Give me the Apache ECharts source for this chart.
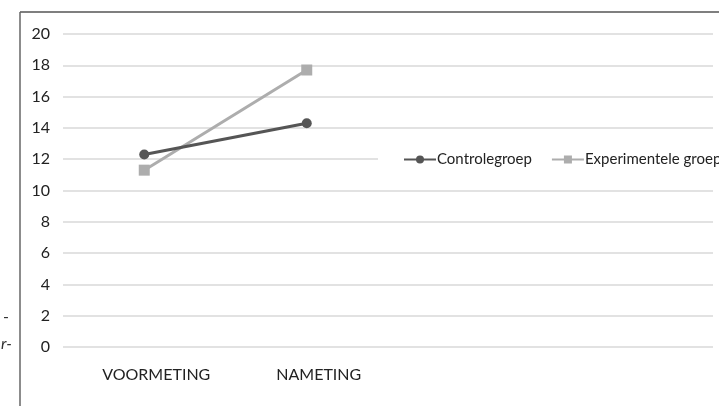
<!DOCTYPE html>
<html>
<head>
<meta charset="utf-8">
<script src="https://cdn.jsdelivr.net/npm/echarts@6/dist/echarts.min.js"></script>
<style>
html,body{margin:0;padding:0;background:#fff;}
#main{width:719px;height:406px;}
</style>
</head>
<body>
<div id="main"></div>
<script>
// metingen (laatste twee categorieen leeg, zoals in de figuur)
var categories = ['VOORMETING', 'NAMETING', '', ''];
var controle = [12.3, 14.3];
var experimenteel = [11.3, 17.7];
var yTicks = [0, 2, 4, 6, 8, 10, 12, 14, 16, 18, 20];

window.onload = function () {
    var myChart = echarts.init(document.getElementById('main'));
    var option = {
        backgroundColor: '#fff',
        animation: false,
        textStyle: { fontFamily: 'Lato' },
        grid: { left: 63, right: 6, top: 34, bottom: 59 },
        legend: {
            left: 378,
            top: 148,
            width: 420,
            padding: [4, 0, 4, 25],
            backgroundColor: '#fff',
            itemWidth: 32,
            itemHeight: 10,
            itemGap: 19,
            textStyle: { fontFamily: 'Lato', fontSize: 15, color: '#222', padding: [0, 0, 0, -4] },
            data: ['Controlegroep', 'Experimentele groep']
        },
        xAxis: {
            type: 'category',
            data: categories,
            boundaryGap: true,
            axisLine: { show: false },
            axisTick: { show: false },
            axisLabel: { margin: 20, fontSize: 16, color: '#222', fontFamily: 'Lato', padding: [0, 0, 0, 24] }
        },
        yAxis: {
            type: 'value',
            min: yTicks[0],
            max: yTicks[yTicks.length - 1],
            interval: 2,
            axisLine: { show: false },
            axisTick: { show: false },
            axisLabel: { margin: 13, fontSize: 16, color: '#222', fontFamily: 'Lato' },
            splitLine: { lineStyle: { color: '#e2e2e2', width: 2 } }
        },
        graphic: [
            { type: 'line', shape: { x1: 20, y1: 12, x2: 719, y2: 12 }, style: { stroke: '#555', lineWidth: 1.5 } },
            { type: 'line', shape: { x1: 20, y1: 12, x2: 20, y2: 406 }, style: { stroke: '#666', lineWidth: 1.5 } },
            { type: 'text', left: 3, top: 309, style: { text: '-', font: '16px Lato', fill: '#333' } },
            { type: 'text', left: 1, top: 336, style: { text: 'r-', font: 'italic 16px Lato', fill: '#333' } }
        ],
        series: [
            {
                name: 'Controlegroep',
                type: 'line',
                data: controle,
                symbol: 'circle',
                symbolSize: 10,
                itemStyle: { color: '#555' },
                lineStyle: { color: '#555', width: 3 },
                z: 3
            },
            {
                name: 'Experimentele groep',
                type: 'line',
                data: experimenteel,
                symbol: 'rect',
                symbolSize: 11,
                itemStyle: { color: '#adadad' },
                lineStyle: { color: '#adadad', width: 3 },
                z: 2
            }
        ]
    };
    myChart.setOption(option);
};
</script>
</body>
</html>
